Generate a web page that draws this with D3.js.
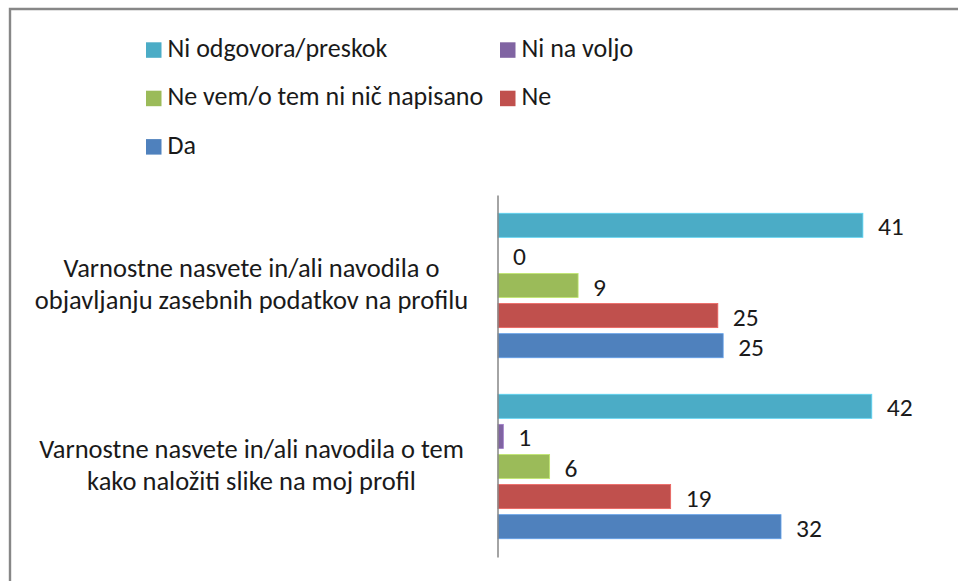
<!DOCTYPE html>
<html>
<head>
<meta charset="utf-8">
<script src="https://cdn.jsdelivr.net/npm/d3@7"></script>
<style>
  html, body { margin: 0; padding: 0; background: #fff; }
  svg { display: block; font-family: Carlito, Calibri, Lato, sans-serif; }
</style>
</head>
<body>
<svg id="chart" width="958" height="581"></svg>
<script>
// ---- Data ----
const categories = [
  ["Varnostne nasvete in/ali navodila o", "objavljanju zasebnih podatkov na profilu"],
  ["Varnostne nasvete in/ali navodila o tem", "kako naložiti slike na moj profil"]
];
const seriesNames = ["Ni odgovora/preskok", "Ni na voljo", "Ne vem/o tem ni nič napisano", "Ne", "Da"];
const seriesColors = ["#4BACC6", "#8064A2", "#9BBB59", "#C0504D", "#4F81BD"];
// values per series, one per category (percent)
const niOdgovora = [41.0, 42.0];
const niNaVoljo  = [0.0, 0.6];
const neVem      = [9.0, 5.8];
const ne         = [24.7, 19.4];
const da         = [25.3, 31.8];
const seriesValues = [niOdgovora, niNaVoljo, neVem, ne, da];
const xDomain = [0, 45];

// ---- Layout ----
const svg = d3.select("#chart");
const W = 958, H = 581;
const plot = { left: 498, right: 898.5, top: 195, bottom: 557 };

// frame
svg.append("path")
  .attr("d", `M10,${H} L10,9 L${W},9`)
  .attr("fill", "none").attr("stroke", "#878787").attr("stroke-width", 2.4);

const catIdx = categories.map((c, i) => i);
const y0 = d3.scaleBand().domain(catIdx).range([plot.top, plot.bottom]).padding(0);
const y1 = d3.scaleBand().domain(seriesNames).range([0, y0.bandwidth()])
  .paddingInner(0.2).paddingOuter(0.607);
const x = d3.scaleLinear().domain(xDomain).range([plot.left, plot.right]);

const fmt = d3.format(".0f");

// bars
const groups = svg.selectAll("g.cat").data(catIdx).join("g")
  .attr("class", "cat")
  .attr("transform", i => `translate(0,${y0(i)})`);

groups.each(function(ci) {
  const g = d3.select(this);
  const rows = seriesNames.map((s, si) => ({ s, si, v: seriesValues[si][ci] }));
  g.selectAll("rect").data(rows.filter(d => d.v > 0)).join("rect")
    .attr("x", x(0))
    .attr("y", d => y1(d.s))
    .attr("width", d => x(d.v) - x(0))
    .attr("height", y1.bandwidth())
    .attr("fill", d => seriesColors[d.si])
    .attr("stroke", d => d3.color(seriesColors[d.si]).brighter(0.6))
    .attr("stroke-width", 0.8);
  g.selectAll("text.val").data(rows).join("text")
    .attr("class", "val")
    .attr("x", d => x(d.v) + 15)
    .attr("y", d => y1(d.s) + y1.bandwidth() / 2 + 1.5)
    .attr("dominant-baseline", "central")
    .attr("font-size", 25.5)
    .attr("fill", "#1a1a1a")
    .text(d => fmt(d.v));
});

// category axis line
const yAxis = d3.axisLeft(y0).tickSize(0).tickFormat("");
const ax = svg.append("g").attr("transform", `translate(${plot.left - 0.5},0)`).call(yAxis);
ax.select(".domain").attr("stroke", "#868686").attr("stroke-width", 1.5);

// category labels
catIdx.forEach(ci => {
  const cy = y0(ci) + y0.bandwidth() / 2;
  const t = svg.append("text")
    .attr("text-anchor", "middle")
    .attr("font-size", 26.5)
    .attr("fill", "#1a1a1a");
  categories[ci].forEach((line, li) => {
    t.append("tspan").attr("x", 251.5).attr("y", cy - 8.7 + li * 32).text(line);
  });
});

// legend
const legendOrder = [0, 1, 2, 3, 4];
const legend = svg.append("g");
legendOrder.forEach((si, k) => {
  const col = k % 2, row = Math.floor(k / 2);
  const lx = col === 0 ? 146 : 500;
  const ly = 42.3 + row * 48.4;
  legend.append("rect").attr("x", lx).attr("y", ly).attr("width", 15.5).attr("height", 15.5)
    .attr("fill", seriesColors[si]);
  legend.append("text").attr("x", lx + 21.5).attr("y", ly + 14.5)
    .attr("font-size", 26).attr("fill", "#1a1a1a")
    .text(seriesNames[si]);
});
</script>
</body>
</html>
